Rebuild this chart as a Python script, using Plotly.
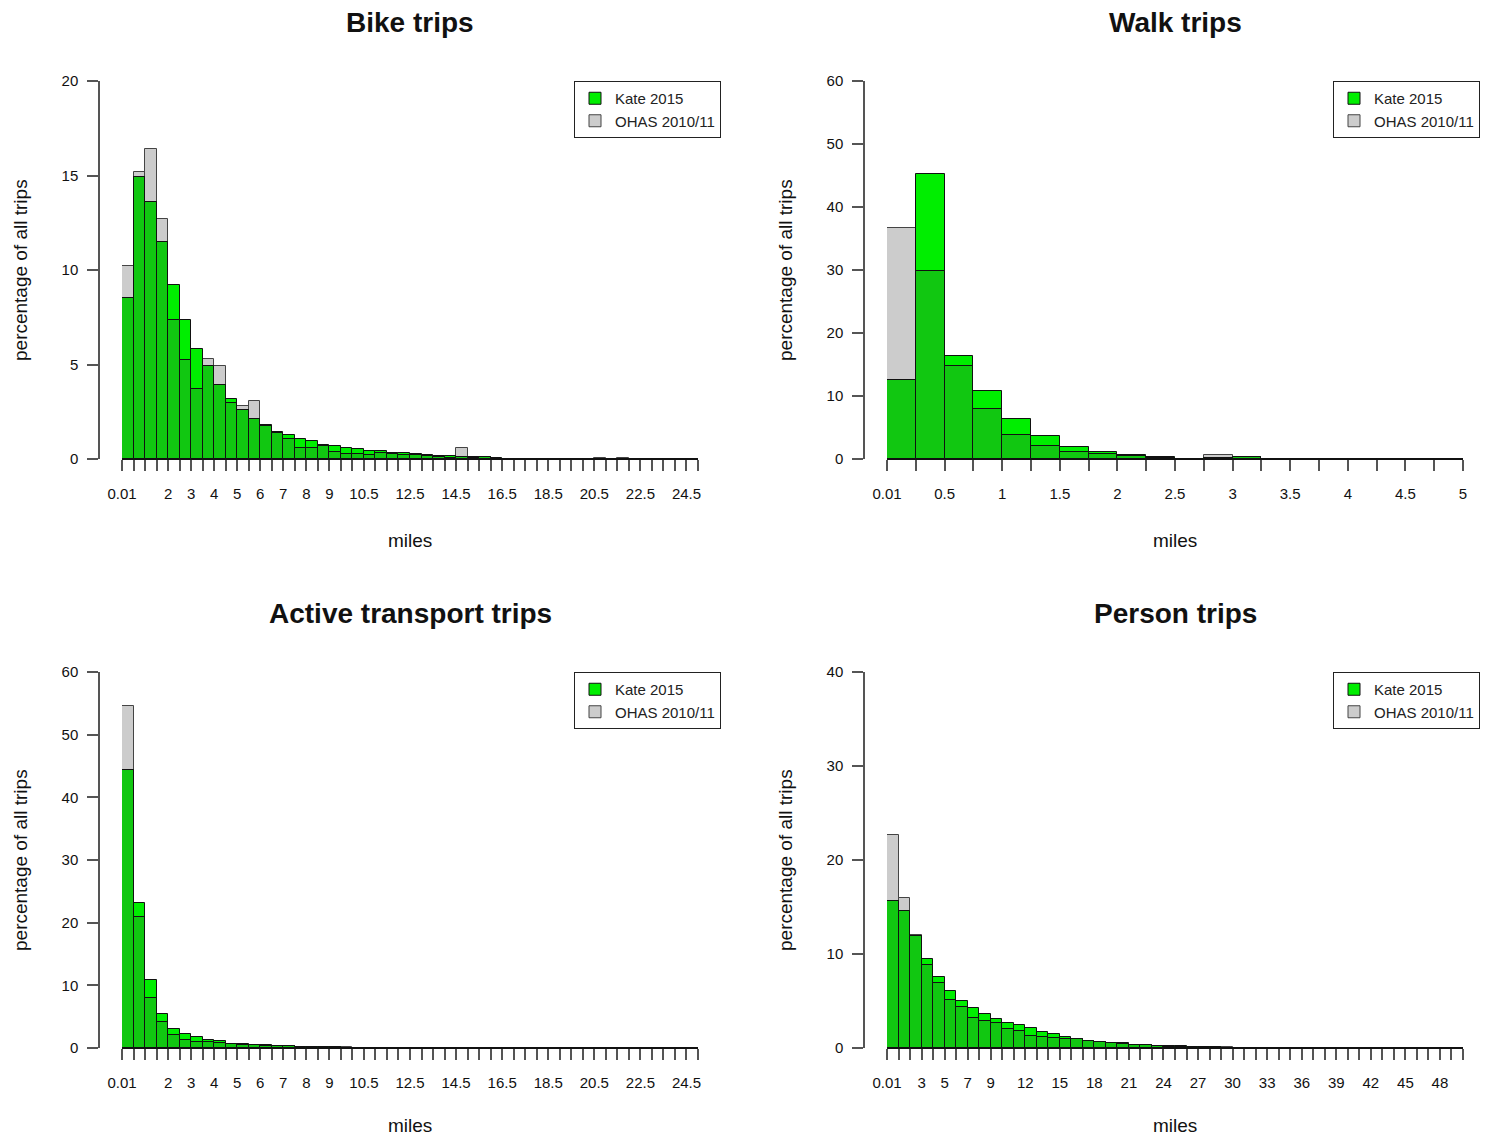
import plotly.graph_objects as go
import numpy as np

# ---------------- data (percentage of all trips per distance bin) ----------------
# Bike trips: bins of 0.5 mile from 0 to 25
bike_kate = [8.5, 14.9, 13.6, 11.5, 9.2, 7.35, 5.8, 4.9, 3.9, 3.2,
             2.6, 2.1, 1.8, 1.45, 1.27, 1.04, 0.95, 0.74, 0.69, 0.6,
             0.51, 0.44, 0.42, 0.34, 0.3, 0.26, 0.23, 0.16, 0.16, 0.1,
             0.12, 0.1, 0.03, 0.02, 0.02, 0.01, 0.01, 0.01, 0.01, 0.0,
             0.0, 0.02, 0.0, 0.02, 0.0, 0.0, 0.0, 0.0, 0.0, 0.0]
bike_ohas = [10.2, 15.2, 16.4, 12.7, 7.35, 5.22, 3.69, 5.27, 4.92, 2.94,
             2.8, 3.07, 1.75, 1.36, 1.05, 0.56, 0.56, 0.7, 0.39, 0.26,
             0.26, 0.21, 0.33, 0.26, 0.22, 0.2, 0.18, 0.12, 0.05, 0.6,
             0.06, 0.08, 0.02, 0.02, 0.01, 0.01, 0.01, 0.01, 0.0, 0.0,
             0.0, 0.05, 0.0, 0.05, 0.0, 0.0, 0.0, 0.0, 0.0, 0.0]

# Walk trips: bins of 0.25 mile from 0 to 5
walk_kate = [12.5, 45.3, 16.4, 10.8, 6.4, 3.6, 1.96, 1.16, 0.58, 0.37,
             0.05, 0.1, 0.37, 0.05, 0.0, 0.0, 0.05, 0.05, 0.05, 0.0]
walk_ohas = [36.6, 29.9, 14.8, 7.9, 3.75, 2.06, 1.06, 0.8, 0.45, 0.2,
             0.05, 0.63, 0.3, 0.0, 0.0, 0.0, 0.05, 0.05, 0.03, 0.0]

# Active transport trips: bins of 0.5 mile from 0 to 25
active_kate = [44.3, 23.1, 10.85, 5.5, 3.1, 2.2, 1.7, 1.35, 1.15, 0.7,
               0.6, 0.55, 0.4, 0.3, 0.25, 0.22, 0.2, 0.12, 0.1, 0.08,
               0.05, 0.0, 0.0, 0.0, 0.0, 0.0, 0.0, 0.0, 0.0, 0.0,
               0.0, 0.0, 0.0, 0.0, 0.0, 0.0, 0.0, 0.0, 0.0, 0.0,
               0.0, 0.0, 0.0, 0.0, 0.0, 0.0, 0.0, 0.0, 0.0, 0.0]
active_ohas = [54.5, 20.9, 7.9, 4.2, 2.07, 1.28, 1.0, 0.9, 0.75, 0.6,
               0.5, 0.4, 0.35, 0.3, 0.25, 0.2, 0.2, 0.15, 0.12, 0.1,
               0.08, 0.0, 0.0, 0.0, 0.0, 0.0, 0.0, 0.0, 0.0, 0.0,
               0.0, 0.0, 0.0, 0.0, 0.0, 0.0, 0.0, 0.0, 0.0, 0.0,
               0.0, 0.0, 0.0, 0.0, 0.0, 0.0, 0.0, 0.0, 0.0, 0.0]

# Person trips: bins of 1 mile from 0 to 50
person_kate = [15.6, 14.6, 11.9, 9.43, 7.52, 6.03, 5.0, 4.22, 3.62, 3.09,
               2.7, 2.45, 2.16, 1.74, 1.45, 1.2, 0.95, 0.74, 0.64, 0.57,
               0.5, 0.35, 0.32, 0.18, 0.2, 0.2, 0.1, 0.08, 0.06, 0.05,
               0.0, 0.0, 0.0, 0.0, 0.0, 0.0, 0.0, 0.0, 0.0, 0.0,
               0.0, 0.0, 0.0, 0.0, 0.0, 0.0, 0.0, 0.0, 0.0, 0.0]
person_ohas = [22.66, 16.0, 12.0, 8.83, 6.88, 5.1, 4.4, 3.23, 2.87, 2.62,
               1.99, 1.84, 1.31, 1.2, 1.1, 1.0, 1.0, 0.7, 0.6, 0.55,
               0.45, 0.35, 0.3, 0.2, 0.15, 0.12, 0.1, 0.1, 0.08, 0.06,
               0.0, 0.0, 0.0, 0.0, 0.0, 0.0, 0.0, 0.0, 0.0, 0.0,
               0.0, 0.0, 0.0, 0.0, 0.0, 0.0, 0.0, 0.0, 0.0, 0.0]

# tick labels
bike_tickvals = [0, 2, 3, 4, 5, 6, 7, 8, 9, 10.5, 12.5, 14.5, 16.5, 18.5, 20.5, 22.5, 24.5]
bike_ticktext = ["0.01", "2", "3", "4", "5", "6", "7", "8", "9", "10.5", "12.5",
                 "14.5", "16.5", "18.5", "20.5", "22.5", "24.5"]
walk_tickvals = [0, 0.5, 1, 1.5, 2, 2.5, 3, 3.5, 4, 4.5, 5]
walk_ticktext = ["0.01", "0.5", "1", "1.5", "2", "2.5", "3", "3.5", "4", "4.5", "5"]
person_tickvals = [0, 3, 5, 7, 9, 12, 15, 18, 21, 24, 27, 30, 33, 36, 39, 42, 45, 48]
person_ticktext = ["0.01", "3", "5", "7", "9", "12", "15", "18", "21", "24", "27",
                   "30", "33", "36", "39", "42", "45", "48"]

titles = ["Bike trips", "Walk trips", "Active transport trips", "Person trips"]
series_names = ["Kate 2015", "OHAS 2010/11"]

# ---------------- styling / layout ----------------
PAGE_W, PAGE_H = 1489, 1143
OFF = 8                       # page body margin
W, H = PAGE_W - 2 * OFF, PAGE_H - 2 * OFF
FONT = "Liberation Sans, Arial, sans-serif"
KATE_C = "#00EE00"
OHAS_C = "#CCCCCC"
BOTH_C = "#11C711"

def fx(px):
    return (px - OFF) / W

def fy(py):
    return 1 - (py - OFF) / H

panels = [
    dict(kate=bike_kate, ohas=bike_ohas, bw=0.5, xmax=25, ymax=20, ydt=5,
         tv=bike_tickvals, tt=bike_ticktext, minor=0.5,
         xd=(122, 698), yd=(81, 459), yax_px=99, leg_r=721, xt_y=540, title=titles[0]),
    dict(kate=walk_kate, ohas=walk_ohas, bw=0.25, xmax=5, ymax=60, ydt=10,
         tv=walk_tickvals, tt=walk_ticktext, minor=0.25,
         xd=(887, 1463), yd=(81, 459), yax_px=864, leg_r=1480, xt_y=540, title=titles[1]),
    dict(kate=active_kate, ohas=active_ohas, bw=0.5, xmax=25, ymax=60, ydt=10,
         tv=bike_tickvals, tt=bike_ticktext, minor=0.5,
         xd=(122, 698), yd=(672, 1048), yax_px=99, leg_r=721, xt_y=1125, title=titles[2]),
    dict(kate=person_kate, ohas=person_ohas, bw=1.0, xmax=50, ymax=40, ydt=10,
         tv=person_tickvals, tt=person_ticktext, minor=1,
         xd=(887, 1463), yd=(672, 1048), yax_px=864, leg_r=1480, xt_y=1125, title=titles[3]),
]

fig = go.Figure()
annotations = []
layout_upd = {}

for i, p in enumerate(panels):
    n = i + 1
    xa = "x" if n == 1 else f"x{n}"
    ya = "y" if n == 1 else f"y{n}"
    lg = "legend" if n == 1 else f"legend{n}"
    kate = np.array(p["kate"], dtype=float)
    ohas = np.array(p["ohas"], dtype=float)
    both = np.minimum(kate, ohas)
    centers = p["bw"] * (np.arange(len(kate)) + 0.5)
    line = dict(color="#111111", width=1)

    fig.add_trace(go.Bar(x=centers, y=ohas, width=p["bw"], name=series_names[1],
                         marker=dict(color=OHAS_C, line=dict(color="#444444", width=1)),
                         xaxis=xa, yaxis=ya, legend=lg, legendrank=2, hoverinfo="skip"))
    fig.add_trace(go.Bar(x=centers, y=kate, width=p["bw"], name=series_names[0],
                         marker=dict(color=KATE_C, line=line),
                         xaxis=xa, yaxis=ya, legend=lg, legendrank=1, hoverinfo="skip"))
    fig.add_trace(go.Bar(x=centers, y=both, width=p["bw"], name="overlap",
                         marker=dict(color=BOTH_C, line=line), showlegend=False,
                         xaxis=xa, yaxis=ya, legend=lg, hoverinfo="skip"))

    xkey = "xaxis" if n == 1 else f"xaxis{n}"
    ykey = "yaxis" if n == 1 else f"yaxis{n}"
    layout_upd[xkey] = dict(
        domain=[fx(p["xd"][0]), fx(p["xd"][1])], range=[0, p["xmax"]], anchor=ya,
        automargin=False,
        showgrid=False, zeroline=False, showline=True, linecolor="#111111", linewidth=1,
        ticks="outside", ticklen=11, tickcolor="#555555", tickwidth=1.5,
        tickmode="array", tickvals=p["tv"], ticktext=p["tt"], ticklabelstandoff=10,
        minor=dict(dtick=p["minor"], tick0=0, ticks="outside", ticklen=11,
                   tickcolor="#555555", tickwidth=1.5, showgrid=False),
        tickfont=dict(family=FONT, size=15, color="#111111"), fixedrange=True)
    layout_upd[ykey] = dict(
        domain=[fy(p["yd"][1]), fy(p["yd"][0])], range=[0, p["ymax"]],
        anchor="free", position=fx(p["yax_px"]), automargin=False,
        showgrid=False, zeroline=False, showline=True, linecolor="#555555", linewidth=1.5,
        ticks="outside", ticklen=11, tickcolor="#555555", tickwidth=1.5,
        tickmode="linear", tick0=0, dtick=p["ydt"], ticklabelstandoff=6,
        tickfont=dict(family=FONT, size=15, color="#111111"), fixedrange=True)
    layout_upd[lg] = dict(
        x=fx(p["leg_r"]), xanchor="right", y=fy(p["yd"][0]), yanchor="top",
        bgcolor="white", bordercolor="#222222", borderwidth=1,
        font=dict(family=FONT, size=15, color="#222222"), traceorder="normal",
        itemwidth=30, tracegroupgap=0)

    cx = (p["yax_px"] + p["xd"][1] + 23) / 2
    # title
    annotations.append(dict(text=f"<b>{p['title']}</b>", x=fx(cx), y=fy(p["yd"][0] - 59),
                            xref="paper", yref="paper", showarrow=False,
                            xanchor="center", yanchor="middle",
                            font=dict(family=FONT, size=28, color="#111111")))
    # x-axis title
    annotations.append(dict(text="miles", x=fx(cx), y=fy(p["xt_y"]),
                            xref="paper", yref="paper", showarrow=False,
                            xanchor="center", yanchor="middle",
                            font=dict(family=FONT, size=19, color="#111111")))
    # y-axis title
    annotations.append(dict(text="percentage of all trips",
                            x=fx(p["yax_px"] - 79), y=fy((p["yd"][0] + p["yd"][1]) / 2),
                            xref="paper", yref="paper", showarrow=False, textangle=-90,
                            xanchor="center", yanchor="middle",
                            font=dict(family=FONT, size=19, color="#111111")))

fig.update_layout(**layout_upd)
fig.update_layout(
    width=W, height=H, margin=dict(l=0, r=0, t=0, b=0, autoexpand=False),
    paper_bgcolor="white", plot_bgcolor="white",
    barmode="overlay", bargap=0, annotations=annotations,
    font=dict(family=FONT, color="#111111"),
)

fig.write_html("out.html")
